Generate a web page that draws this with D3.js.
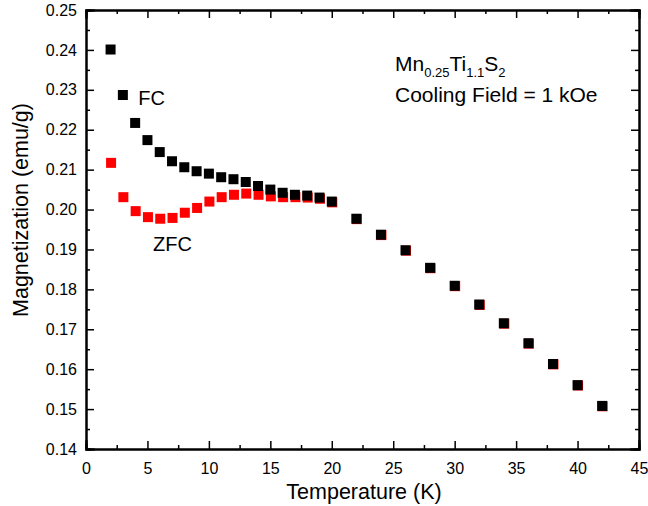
<!DOCTYPE html>
<html>
<head>
<meta charset="utf-8">
<script src="https://cdn.jsdelivr.net/npm/d3@7"></script>
<style>
  body { margin: 0; background: #fff; }
  text { font-family: "Liberation Sans", Arial, sans-serif; fill: #000; }
</style>
</head>
<body>
<div id="chart"></div>
<script>
// temperatures (K)
var temps = [2, 3, 4, 5, 6, 7, 8, 9, 10, 11, 12, 13, 14, 15, 16, 17, 18, 19, 20,
  22, 24, 26, 28, 30, 32, 34, 36, 38, 40, 42];

// field cooled
var fcVals = [0.2401, 0.2287, 0.2217, 0.2174, 0.2144, 0.2121, 0.2106, 0.2096, 0.2090, 0.2081,
  0.2076, 0.2069, 0.2059, 0.2050, 0.2042, 0.2037, 0.2035, 0.2030, 0.2020,
  0.1977, 0.1937, 0.1898, 0.1854, 0.1809, 0.1762, 0.1715, 0.1665, 0.1613, 0.1560, 0.1508];

// zero field cooled
var zfcVals = [0.2117, 0.2031, 0.1996, 0.1981, 0.1977, 0.1979, 0.1992, 0.2004, 0.2020, 0.2031,
  0.2037, 0.2040, 0.2037, 0.2033, 0.2031, 0.2031, 0.2030, 0.2027, 0.2018,
  0.1976, 0.1936, 0.1897, 0.1853, 0.1808, 0.1761, 0.1714, 0.1664, 0.1612, 0.1559, 0.1507];

var xTicks = [0, 5, 10, 15, 20, 25, 30, 35, 40, 45];
var yTicks = [0.14, 0.15, 0.16, 0.17, 0.18, 0.19, 0.20, 0.21, 0.22, 0.23, 0.24, 0.25];

var width = 648, height = 506;
var margin = { top: 10, right: 9, bottom: 57, left: 86 };
var w = width - margin.left - margin.right;
var h = height - margin.top - margin.bottom;

var svg = d3.select('#chart').append('svg')
  .attr('width', width)
  .attr('height', height);

var g = svg.append('g')
  .attr('transform', `translate(${margin.left}, ${margin.top})`);

var x = d3.scaleLinear().domain([0, 45]).range([0, w]);
var y = d3.scaleLinear().domain([0.14, 0.25]).range([h, 0]);

// minor tick positions (halfway between majors)
var xMinor = d3.range(2.5, 45, 5);
var yMinor = d3.range(0.145, 0.25, 0.01);

function styleAxis(sel) {
  sel.select('.domain').attr('stroke', '#000').attr('stroke-width', 2);
  sel.selectAll('.tick line').attr('stroke', '#000').attr('stroke-width', 1.5);
}

// bottom
g.append('g')
  .attr('transform', `translate(0, ${h})`)
  .call(d3.axisBottom(x).tickValues(xTicks).tickSize(-8).tickPadding(14).tickFormat(d3.format('d')))
  .call(styleAxis)
  .selectAll('text')
    .style('font-size', '16px')
    .attr('font-family', null);
g.append('g')
  .attr('transform', `translate(0, ${h})`)
  .call(d3.axisBottom(x).tickValues(xMinor).tickSize(-4).tickFormat(''))
  .call(styleAxis);

// top
g.append('g')
  .call(d3.axisTop(x).tickValues(xTicks).tickSize(-8).tickFormat(''))
  .call(styleAxis);
g.append('g')
  .call(d3.axisTop(x).tickValues(xMinor).tickSize(-4).tickFormat(''))
  .call(styleAxis);

// left
g.append('g')
  .call(d3.axisLeft(y).tickValues(yTicks).tickSize(-8).tickPadding(9).tickFormat(d3.format('.2f')))
  .call(styleAxis)
  .selectAll('text')
    .style('font-size', '16px')
    .attr('font-family', null);
g.append('g')
  .call(d3.axisLeft(y).tickValues(yMinor).tickSize(-4).tickFormat(''))
  .call(styleAxis);

// right
g.append('g')
  .attr('transform', `translate(${w}, 0)`)
  .call(d3.axisRight(y).tickValues(yTicks).tickSize(-8).tickFormat(''))
  .call(styleAxis);
g.append('g')
  .attr('transform', `translate(${w}, 0)`)
  .call(d3.axisRight(y).tickValues(yMinor).tickSize(-4).tickFormat(''))
  .call(styleAxis);

svg.selectAll('.domain').attr('stroke-linecap', 'square');

var sq = 10;

// ZFC underneath
g.selectAll('rect.zfc')
  .data(temps)
  .enter()
  .append('rect')
  .attr('class', 'zfc')
  .attr('x', (d, i) => x(d) - sq / 2 + 0.5)
  .attr('y', (d, i) => y(zfcVals[i]) - sq / 2)
  .attr('width', sq)
  .attr('height', sq)
  .attr('fill', '#ff0000');

// FC on top
g.selectAll('rect.fc')
  .data(temps)
  .enter()
  .append('rect')
  .attr('class', 'fc')
  .attr('x', (d, i) => x(d) - sq / 2)
  .attr('y', (d, i) => y(fcVals[i]) - sq / 2)
  .attr('width', sq)
  .attr('height', sq)
  .attr('fill', '#000');

// curve labels
g.append('text')
  .attr('x', x(4.25))
  .attr('y', 95)
  .style('font-size', '20px')
  .text('FC');

g.append('text')
  .attr('x', x(5.45))
  .attr('y', 241)
  .style('font-size', '20px')
  .text('ZFC');

// sample annotation
var ann = g.append('text')
  .attr('x', 309)
  .attr('y', 61)
  .style('font-size', '21px');
ann.append('tspan').text('Mn');
ann.append('tspan').attr('dy', 6).style('font-size', '13px').text('0.25');
ann.append('tspan').attr('dy', -6).text('Ti');
ann.append('tspan').attr('dy', 6).style('font-size', '13px').text('1.1');
ann.append('tspan').attr('dy', -6).text('S');
ann.append('tspan').attr('dy', 6).style('font-size', '13px').text('2');

g.append('text')
  .attr('x', 309)
  .attr('y', 92)
  .style('font-size', '21px')
  .text('Cooling Field = 1 kOe');

// axis titles
g.append('text')
  .attr('x', 278)
  .attr('y', h + 50)
  .attr('text-anchor', 'middle')
  .style('font-size', '21.5px')
  .text('Temperature (K)');

g.append('text')
  .attr('transform', `translate(${-58}, ${200}) rotate(-90)`)
  .attr('text-anchor', 'middle')
  .style('font-size', '21.5px')
  .text('Magnetization (emu/g)');
</script>
</body>
</html>
